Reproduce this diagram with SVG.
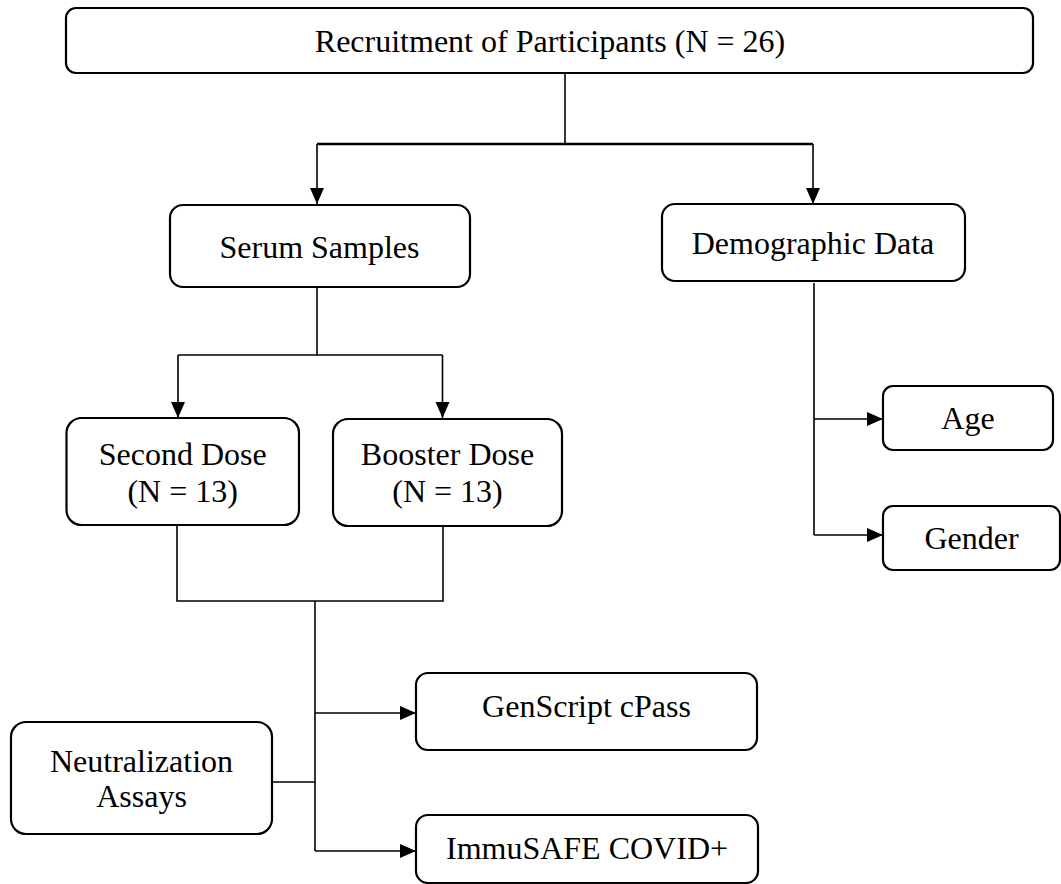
<svg xmlns="http://www.w3.org/2000/svg" width="1061" height="884" viewBox="0 0 1061 884">
<defs>
<marker id="ah" markerUnits="userSpaceOnUse" markerWidth="17" markerHeight="15" refX="16" refY="7" orient="auto">
<path d="M0,0 L16,7 L0,14 z" fill="#000"/>
</marker>
<style>
.box{fill:#fff;stroke:#000;stroke-width:2.2}
.t{font-family:"Liberation Serif","Times New Roman",serif;font-size:32px;fill:#000;text-anchor:middle}
.c{fill:none;stroke:#000;stroke-width:1.6}
</style>
</defs>
<rect width="1061" height="884" fill="#fff"/>
<g id="connectors">
<line class="c" x1="565" y1="73" x2="565" y2="144"/>
<line class="c" x1="317" y1="144" x2="813" y2="144" style="stroke-width:2.4"/>
<line class="c" x1="317" y1="144" x2="317" y2="204" marker-end="url(#ah)"/>
<line class="c" x1="813" y1="144" x2="813" y2="204" marker-end="url(#ah)"/>
<line class="c" x1="317" y1="287" x2="317" y2="355"/>
<line class="c" x1="178" y1="355" x2="442.5" y2="355"/>
<line class="c" x1="178" y1="355" x2="178" y2="418" marker-end="url(#ah)"/>
<line class="c" x1="442.5" y1="355" x2="442.5" y2="418" marker-end="url(#ah)"/>
<polyline class="c" points="177,525 177,601 443,601 443,526"/>
<line class="c" x1="315" y1="601" x2="315" y2="851"/>
<line class="c" x1="272" y1="782" x2="315" y2="782"/>
<line class="c" x1="315" y1="713" x2="416" y2="713" marker-end="url(#ah)"/>
<line class="c" x1="315" y1="851" x2="416" y2="851" marker-end="url(#ah)"/>
<line class="c" x1="814" y1="283" x2="814" y2="535"/>
<line class="c" x1="814" y1="419" x2="883" y2="419" marker-end="url(#ah)"/>
<line class="c" x1="814" y1="535" x2="883" y2="535" marker-end="url(#ah)"/>
</g>
<g id="recruitment">
<rect class="box" x="66" y="8" width="967" height="65" rx="10"/>
<text class="t" x="550" y="52">Recruitment of Participants (N = 26)</text>
</g>
<g id="serum">
<rect class="box" x="170" y="205" width="300" height="82" rx="13"/>
<text class="t" x="319.5" y="258">Serum Samples</text>
</g>
<g id="demographic">
<rect class="box" x="662" y="204" width="303" height="77" rx="13"/>
<text class="t" x="813" y="254">Demographic Data</text>
</g>
<g id="age">
<rect class="box" x="883" y="386" width="170" height="64" rx="10"/>
<text class="t" x="968" y="429">Age</text>
</g>
<g id="gender">
<rect class="box" x="883" y="506" width="177" height="64" rx="10"/>
<text class="t" x="971.5" y="549">Gender</text>
</g>
<g id="second-dose">
<rect class="box" x="66.5" y="418" width="232.5" height="107" rx="15"/>
<text class="t" x="182.7" y="465">Second Dose</text>
<text class="t" x="182.7" y="502">(N = 13)</text>
</g>
<g id="booster-dose">
<rect class="box" x="333" y="419" width="229" height="107" rx="15"/>
<text class="t" x="447.5" y="465">Booster Dose</text>
<text class="t" x="447.5" y="502">(N = 13)</text>
</g>
<g id="neutralization">
<rect class="box" x="11" y="722" width="261" height="112" rx="15"/>
<text class="t" x="141.5" y="772">Neutralization</text>
<text class="t" x="141.5" y="807">Assays</text>
</g>
<g id="genscript">
<rect class="box" x="416" y="673" width="341" height="77" rx="12"/>
<text class="t" x="586.5" y="717">GenScript cPass</text>
</g>
<g id="immusafe">
<rect class="box" x="416" y="815" width="342" height="68" rx="12"/>
<text class="t" x="587" y="859">ImmuSAFE COVID+</text>
</g>
</svg>
